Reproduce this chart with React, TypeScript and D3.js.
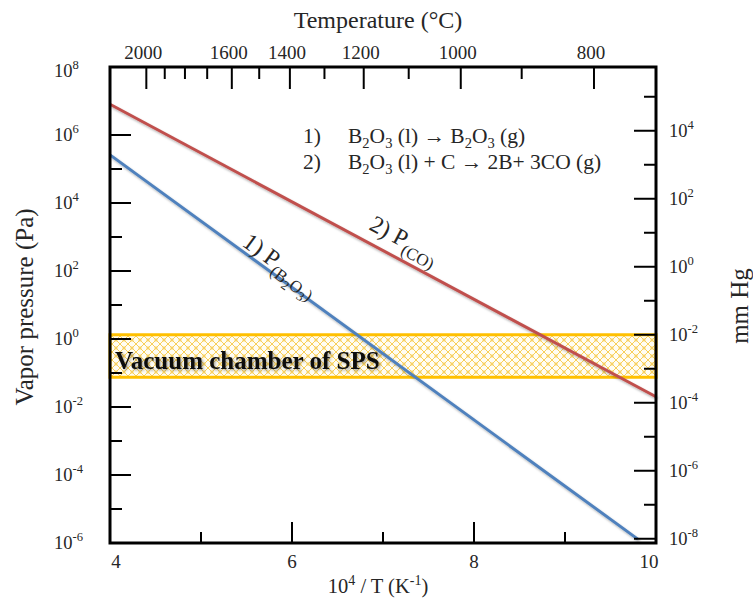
import React from 'react';
import * as d3 from 'd3';

const xDomain: [number, number] = [4, 10];
const yDomainPa: [number, number] = [1e-6, 1e8];
const paPerMmHg = 133.322;

const pCOLine = [
  { x: 4, p: 8e6 },
  { x: 10, p: 2e-2 },
];
const pB2O3Line = [
  { x: 4, p: 2.6e5 },
  { x: 9.8, p: 1.3e-6 },
];

const bottomTicks = [5, 6, 7, 8, 9];
const bottomMajor = [6, 8];
const bottomTickLabels = [4, 6, 8, 10];
const tempTicksC = [2000, 1900, 1800, 1700, 1600, 1500, 1400, 1300, 1200, 1100, 1000, 900, 800];
const tempLabelsC = [2000, 1600, 1400, 1200, 1000, 800];
const leftMajorExp = [8, 6, 4, 2, 0, -2, -4, -6];
const leftMinorExp = [5, 3, 1, -1, -3, -5];
const rightMajorExp = [4, 2, 0, -2, -4, -6, -8];
const rightMinorExp = [5, 3, 1, -1, -3, -5, -7];
const vacuumBandPa = [0.075, 1.333];

const FONT = '"Liberation Serif", "Times New Roman", serif';
const TXT = '#262626';

const L = 110, R = 656, T = 67, B = 543;

export default function App() {
  const x = d3.scaleLinear().domain(xDomain).range([L, R]);
  const y = d3.scaleLog().domain(yDomainPa).range([B, T]);
  const line = d3
    .line<{ x: number; p: number }>()
    .x((d) => x(d.x))
    .y((d) => y(d.p));
  const tempX = (c: number) => x(1e4 / (c + 273.15));
  const mmY = (e: number) => y(Math.pow(10, e) * paPerMmHg);

  const sup = (base: string, e: number, fs: number) => (
    <>
      {base}
      <tspan dy={-fs * 0.42} fontSize={fs * 0.68}>
        {e}
      </tspan>
    </>
  );

  const tickFs = 18.5;
  const eqFs = 21.5;
  const eqSub = 14.5;

  return (
    <svg
      width={753}
      height={601}
      style={{ position: 'absolute', left: 0, top: 0, background: '#fff' }}
      fontFamily={FONT}
    >
      <defs>
        <pattern id="trellis" width="8" height="8" patternUnits="userSpaceOnUse">
          <rect width="8" height="8" fill="#fffdf3" />
          <path d="M0,0 L8,8 M8,0 L0,8" stroke="#f7c948" strokeWidth="0.9" fill="none" />
          <circle cx="4" cy="4" r="1.4" fill="none" stroke="#f9d46a" strokeWidth="0.6" />
        </pattern>
        <filter id="shadow" x="-10%" y="-10%" width="130%" height="130%">
          <feDropShadow dx="1.5" dy="2" stdDeviation="1.2" floodColor="#000" floodOpacity="0.3" />
        </filter>
        <filter id="tshadow" x="-5%" y="-20%" width="115%" height="160%">
          <feDropShadow dx="1.5" dy="1.5" stdDeviation="1" floodColor="#000" floodOpacity="0.35" />
        </filter>
      </defs>

      {/* vacuum band */}
      <rect
        x={L}
        y={y(vacuumBandPa[1])}
        width={R - L}
        height={y(vacuumBandPa[0]) - y(vacuumBandPa[1])}
        fill="url(#trellis)"
        stroke="#ffc000"
        strokeWidth={3}
      />

      {/* lines */}
      <path d={line(pCOLine) || ''} stroke="#c0504d" strokeWidth={3} fill="none" filter="url(#shadow)" />
      <path d={line(pB2O3Line) || ''} stroke="#4f81bd" strokeWidth={3} fill="none" filter="url(#shadow)" />

      <text x={115} y={369} fontSize={25} fontWeight="bold" fill="#111" filter="url(#tshadow)">
        Vacuum chamber of SPS
      </text>

      {/* left ticks */}
      {leftMajorExp.map((e) => (
        <line key={'lm' + e} x1={L} x2={L + 21} y1={y(Math.pow(10, e))} y2={y(Math.pow(10, e))} stroke="#000" strokeWidth={2} />
      ))}
      {leftMinorExp.map((e) => (
        <line key={'ln' + e} x1={L} x2={L + 12} y1={y(Math.pow(10, e))} y2={y(Math.pow(10, e))} stroke="#000" strokeWidth={2} />
      ))}
      {leftMajorExp.map((e) => (
        <text key={'lt' + e} x={54} y={y(Math.pow(10, e)) + 6 + (e === 8 ? 4 : 0)} fontSize={tickFs} fill={TXT}>
          {sup('10', e, tickFs)}
        </text>
      ))}

      {/* right ticks (mm Hg) */}
      {rightMajorExp.map((e) => (
        <line key={'rm' + e} x1={R - 22} x2={R} y1={mmY(e)} y2={mmY(e)} stroke="#000" strokeWidth={2} />
      ))}
      {rightMinorExp.map((e) => (
        <line key={'rn' + e} x1={R - 12} x2={R} y1={mmY(e)} y2={mmY(e)} stroke="#000" strokeWidth={2} />
      ))}
      {rightMajorExp.map((e) => (
        <text key={'rt' + e} x={669} y={mmY(e) + 6} fontSize={tickFs} fill={TXT}>
          {sup('10', e, tickFs)}
        </text>
      ))}

      {/* bottom ticks */}
      {bottomTicks.map((v) => (
        <line
          key={'b' + v}
          x1={x(v)}
          x2={x(v)}
          y1={B}
          y2={B - (bottomMajor.includes(v) ? 21 : 11)}
          stroke="#000"
          strokeWidth={2}
        />
      ))}
      {bottomTickLabels.map((v) => (
        <text
          key={'bl' + v}
          x={Math.min(Math.max(x(v), 116), 649)}
          y={568}
          fontSize={19}
          textAnchor="middle"
          fill={TXT}
        >
          {v}
        </text>
      ))}

      {/* top ticks (temperature) */}
      {tempTicksC.map((c) => (
        <line
          key={'t' + c}
          x1={tempX(c)}
          x2={tempX(c)}
          y1={T}
          y2={T + (tempLabelsC.includes(c) ? 22 : 12)}
          stroke="#000"
          strokeWidth={2}
        />
      ))}
      {tempLabelsC.map((c) => (
        <text key={'tl' + c} x={tempX(c) - 3} y={59} fontSize={19} textAnchor="middle" fill={TXT}>
          {c}
        </text>
      ))}

      {/* frame */}
      <rect x={L} y={T} width={R - L} height={B - T} fill="none" stroke="#000" strokeWidth={3} />

      {/* axis titles */}
      <text x={378} y={28} fontSize={24} textAnchor="middle" fill={TXT}>
        Temperature (°C)
      </text>
      <text x={378} y={593} fontSize={20.5} textAnchor="middle" fill={TXT}>
        10<tspan dy={-8} fontSize={14}>4</tspan>
        <tspan dy={8}> / T (K</tspan>
        <tspan dy={-8} fontSize={14}>-1</tspan>
        <tspan dy={8}>)</tspan>
      </text>
      <text transform="translate(33,307) rotate(-90)" fontSize={25} textAnchor="middle" fill={TXT}>
        Vapor pressure (Pa)
      </text>
      <text transform="translate(748,306) rotate(-90)" fontSize={25} textAnchor="middle" fill={TXT}>
        mm Hg
      </text>

      {/* reactions */}
      <g fontSize={eqFs} fill={TXT}>
        <text x={303} y={143}>1)</text>
        <text x={348} y={143}>
          B<tspan dy={5} fontSize={eqSub}>2</tspan>
          <tspan dy={-5}>O</tspan>
          <tspan dy={5} fontSize={eqSub}>3</tspan>
          <tspan dy={-5}> (l) → B</tspan>
          <tspan dy={5} fontSize={eqSub}>2</tspan>
          <tspan dy={-5}>O</tspan>
          <tspan dy={5} fontSize={eqSub}>3</tspan>
          <tspan dy={-5}> (g)</tspan>
        </text>
        <text x={303} y={169}>2)</text>
        <text x={348} y={169}>
          B<tspan dy={5} fontSize={eqSub}>2</tspan>
          <tspan dy={-5}>O</tspan>
          <tspan dy={5} fontSize={eqSub}>3</tspan>
          <tspan dy={-5}> (l) + C → 2B+ 3CO (g)</tspan>
        </text>
      </g>

      {/* line annotations */}
      <text transform="translate(241,245) rotate(36)" fontSize={24} fill={TXT}>
        1) P
        <tspan dy={7} fontSize={17}>(B</tspan>
        <tspan dy={4} fontSize={13}>2</tspan>
        <tspan dy={-4} fontSize={17}>O</tspan>
        <tspan dy={4} fontSize={13}>3</tspan>
        <tspan dy={-4} fontSize={17}>)</tspan>
      </text>
      <text transform="translate(368,229) rotate(28)" fontSize={24} fill={TXT}>
        2) P<tspan dy={7} fontSize={17}>(CO)</tspan>
      </text>
    </svg>
  );
}
